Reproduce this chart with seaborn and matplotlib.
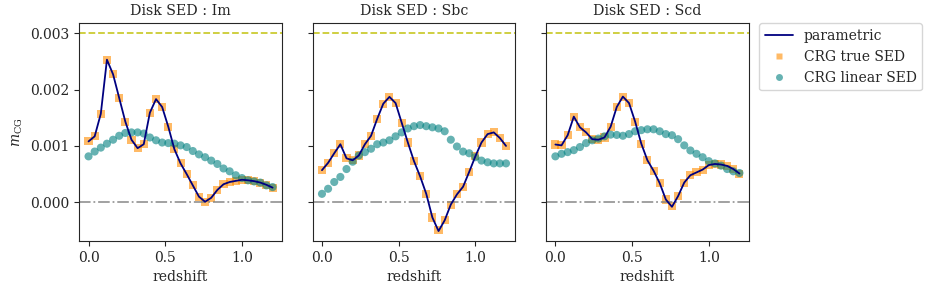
import numpy as np
import pandas as pd
import matplotlib
matplotlib.use("Agg")
import matplotlib.pyplot as plt
import seaborn as sns
from matplotlib.lines import Line2D

# ---------------- data ----------------
redshift = [0.00, 0.04, 0.08, 0.12, 0.16, 0.20, 0.24, 0.28, 0.32, 0.36,
            0.40, 0.44, 0.48, 0.52, 0.56, 0.60, 0.64, 0.68, 0.72, 0.76,
            0.80, 0.84, 0.88, 0.92, 0.96, 1.00, 1.04, 1.08, 1.12, 1.16, 1.20]

seds = ["Im", "Sbc", "Scd"]

# values in units of 1e-3
im_true = [1.08, 1.17, 1.57, 2.53, 2.27, 1.85, 1.43, 1.11, 0.96, 1.03,
           1.59, 1.83, 1.69, 1.34, 0.94, 0.69, 0.50, 0.30, 0.10, 0.01,
           0.08, 0.22, 0.32, 0.36, 0.38, 0.40, 0.39, 0.375, 0.35, 0.31, 0.26]
im_param = [1.08, 1.17, 1.57, 2.53, 2.27, 1.85, 1.43, 1.11, 0.96, 1.03,
            1.59, 1.83, 1.69, 1.34, 0.94, 0.69, 0.50, 0.30, 0.10, 0.01,
            0.08, 0.22, 0.32, 0.36, 0.38, 0.40, 0.39, 0.375, 0.35, 0.31, 0.26]
im_linear = [0.815, 0.90, 0.97, 1.04, 1.11, 1.18, 1.23, 1.24, 1.24, 1.22,
             1.15, 1.10, 1.06, 1.05, 1.04, 1.01, 0.98, 0.91, 0.85, 0.80,
             0.74, 0.68, 0.60, 0.55, 0.48, 0.43, 0.39, 0.37, 0.35, 0.30, 0.27]

sbc_true = [0.57, 0.70, 0.87, 1.03, 0.78, 0.745, 0.83, 1.03, 1.18, 1.48,
            1.75, 1.87, 1.76, 1.41, 1.06, 0.73, 0.46, 0.15, -0.27, -0.49,
            -0.32, -0.04, 0.14, 0.276, 0.54, 0.815, 1.06, 1.21, 1.24, 1.14, 1.00]
sbc_param = [0.57, 0.70, 0.87, 1.03, 0.78, 0.745, 0.83, 1.03, 1.18, 1.48,
             1.75, 1.87, 1.76, 1.41, 1.06, 0.73, 0.46, 0.15, -0.27, -0.51,
             -0.32, -0.04, 0.14, 0.276, 0.54, 0.815, 1.06, 1.21, 1.24, 1.14, 1.00]
sbc_linear = [0.15, 0.24, 0.36, 0.45, 0.59, 0.72, 0.83, 0.89, 0.95, 1.03,
              1.06, 1.10, 1.17, 1.24, 1.31, 1.35, 1.37, 1.35, 1.33, 1.31,
              1.26, 1.11, 0.99, 0.90, 0.87, 0.80, 0.74, 0.71, 0.69, 0.69, 0.69]

scd_true = [1.025, 1.01, 1.19, 1.52, 1.33, 1.24, 1.12, 1.11, 1.15, 1.34,
            1.69, 1.875, 1.76, 1.43, 1.04, 0.745, 0.56, 0.34, 0.05, -0.06,
            0.11, 0.35, 0.48, 0.53, 0.58, 0.66, 0.68, 0.67, 0.645, 0.59, 0.51]
scd_param = [1.025, 1.01, 1.19, 1.52, 1.33, 1.24, 1.12, 1.11, 1.15, 1.34,
             1.69, 1.875, 1.76, 1.43, 1.04, 0.745, 0.56, 0.34, 0.05, -0.08,
             0.11, 0.35, 0.48, 0.53, 0.58, 0.66, 0.68, 0.67, 0.645, 0.59, 0.51]
scd_linear = [0.815, 0.86, 0.89, 0.925, 0.98, 1.05, 1.10, 1.13, 1.17, 1.20,
              1.195, 1.18, 1.21, 1.26, 1.28, 1.295, 1.295, 1.26, 1.21, 1.19,
              1.12, 1.01, 0.92, 0.86, 0.80, 0.73, 0.69, 0.65, 0.59, 0.55, 0.52]

requirement = 0.003
scale = 1e-3

series = {
    "Im": (im_param, im_true, im_linear),
    "Sbc": (sbc_param, sbc_true, sbc_linear),
    "Scd": (scd_param, scd_true, scd_linear),
}

# ---------------- style ----------------
sns.set_style("ticks")
plt.rcParams["font.family"] = ["DejaVu Serif"]
plt.rcParams["mathtext.fontset"] = "dejavuserif"
plt.rcParams["font.size"] = 10

fig, axes = plt.subplots(1, 3, figsize=(9.3, 2.91), dpi=100, sharey=True)
fig.subplots_adjust(left=0.0853, right=0.805, top=0.92, bottom=0.172, wspace=0.153)

for ax, sed in zip(axes, seds):
    p, t, l = series[sed]
    df = pd.DataFrame({
        "z": redshift,
        "param": np.array(p) * scale,
        "true": np.array(t) * scale,
        "linear": np.array(l) * scale,
    })
    sns.lineplot(data=df, x="z", y="param", ax=ax, color="navy", lw=1.3, zorder=3)
    sns.scatterplot(data=df, x="z", y="true", ax=ax, marker="s", color="darkorange",
                    alpha=0.6, s=34, edgecolor="none", zorder=2)
    sns.scatterplot(data=df, x="z", y="linear", ax=ax, marker="o", color="teal",
                    alpha=0.6, s=34, edgecolor="none", zorder=2)
    ax.axhline(requirement, color="y", ls="--", lw=1.3, alpha=0.8)
    ax.axhline(0.0, color="gray", ls="-.", lw=1.3, alpha=0.8)
    ax.set_title(f"Disk SED : {sed}", fontsize=10.2)
    ax.set_xlabel("redshift", fontsize=10)
    ax.set_ylabel("")
    ax.set_xticks([0.0, 0.5, 1.0])
    ax.tick_params(labelsize=10)
    for s in ax.spines.values():
        s.set_color("0.15")

axes[0].set_ylabel(r"$m_{\rm CG}$", fontsize=10)
axes[0].set_yticks([0.0, 0.001, 0.002, 0.003])
axes[0].set_yticklabels(["0.000", "0.001", "0.002", "0.003"])

handles = [
    Line2D([], [], color="navy", lw=1.3),
    Line2D([], [], color="darkorange", alpha=0.6, marker="s", ls="none", markersize=5,
           markeredgecolor="none"),
    Line2D([], [], color="teal", alpha=0.6, marker="o", ls="none", markersize=5,
           markeredgecolor="none"),
]
axes[2].legend(handles, ["parametric", "CRG true SED", "CRG linear SED"],
               loc="upper left", bbox_to_anchor=(1.053, 1.0), borderaxespad=0,
               frameon=True, fontsize=10)

fig.savefig("out.png", dpi=100)
